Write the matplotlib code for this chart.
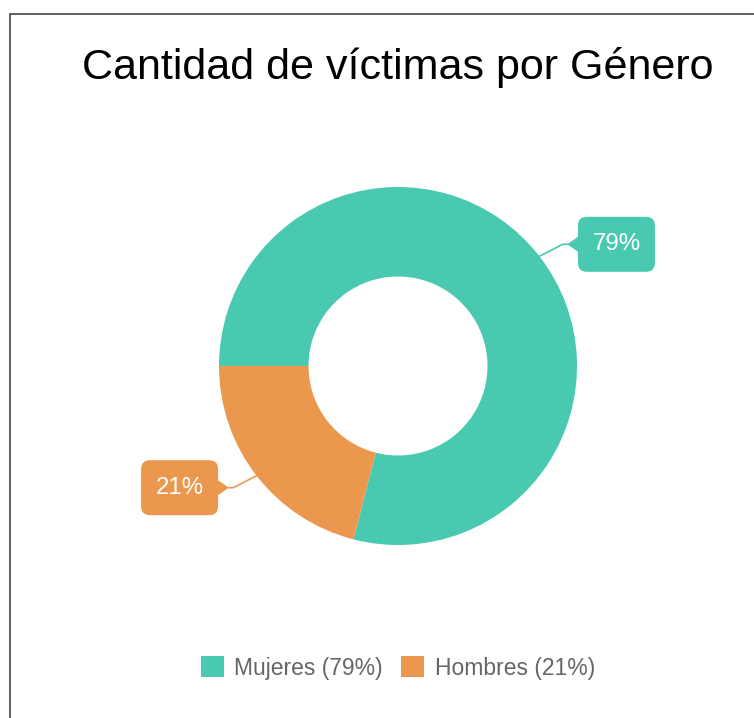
import numpy as np
import matplotlib.pyplot as plt
from matplotlib.patches import FancyBboxPatch, Polygon, Rectangle

plt.rcParams['font.family'] = ['Liberation Sans', 'DejaVu Sans']

title = "Cantidad de víctimas por Género"
labels = ["Mujeres", "Hombres"]
shares = [79, 21]
colors = ["#48C9B0", "#EB984E"]

W, H = 754, 718
cx, cy, R = 398, 366, 179  # donut centre / radius in pixels

fig = plt.figure(figsize=(W / 100, H / 100), dpi=100)
ax = fig.add_axes([0, 0, 1, 1])

wedges, _ = ax.pie(shares, colors=colors, startangle=180, counterclock=False,
                   radius=1, wedgeprops=dict(width=0.5, linewidth=0))

# full-figure axes, 1 data unit == R pixels
ax.set_xlim(-cx / R, (W - cx) / R)
ax.set_ylim(-(H - cy) / R, cy / R)
ax.set_aspect('equal', adjustable='box')
ax.axis('off')

# callout labels
bw, bh = 77 / R, 55 / R
for w, val, col in zip(wedges, shares, colors):
  mid = np.deg2rad((w.theta1 + w.theta2) / 2)
  x0, y0 = np.cos(mid), np.sin(mid)
  s = 1 if x0 > 0 else -1
  x1, y1 = x0 + s * 0.13, y0 + np.sign(y0) * 0.067
  x2 = x1 + s * 0.025
  ax.plot([x0, x1, x2], [y0, y1, y1], color=col, lw=1.2, solid_capstyle='round')
  # box
  bx = x2 + s * (0.06 + bw / 2)
  box = FancyBboxPatch((bx - bw / 2, y1 - bh / 2), bw, bh,
                       boxstyle="round,pad=0,rounding_size=0.05",
                       fc=col, ec='none')
  ax.add_patch(box)
  edge = bx - s * bw / 2
  ax.add_patch(Polygon([[edge + s * 0.005, y1 + 0.045], [x2, y1],
                        [edge + s * 0.005, y1 - 0.045]], closed=True,
                       fc=col, ec='none'))
  ax.text(bx, y1, f"{val}%", color='white', fontsize=17.3,
          ha='center', va='center')

fig.text(cx / W, 1 - 68 / H, title, fontsize=31, ha='center', va='center',
         color='black')

leg = fig.legend(wedges, [f"{l} ({v}%)" for l, v in zip(labels, shares)],
                 loc='center', bbox_to_anchor=(cx / W, 1 - 668 / H), ncol=2,
                 frameon=False, fontsize=16.5, handlelength=1.0,
                 handleheight=1.0, handletextpad=0.45, columnspacing=0.8)
for t in leg.get_texts():
  t.set_color('#666666')

# page border
fig.add_artist(Rectangle((9.5 / W, -0.05), 1.1, 1 - 13.5 / H + 0.05,
                         transform=fig.transFigure, fill=False,
                         ec='#444444', lw=1.2))

fig.savefig("out.png", dpi=100, facecolor='white')
